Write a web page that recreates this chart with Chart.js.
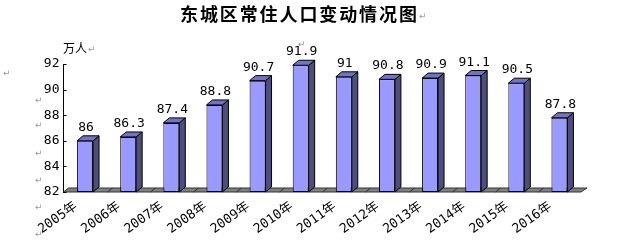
<!DOCTYPE html>
<html>
<head>
<meta charset="utf-8">
<script src="https://cdn.jsdelivr.net/npm/chart.js@4"></script>
<style>
  body { margin: 0; background: #fff; }
  #wrap { width: 642px; height: 247px; }
</style>
</head>
<body>
<div id="wrap"><canvas id="chart" width="642" height="247"></canvas></div>
<script>
// data
const years = ['2005年', '2006年', '2007年', '2008年', '2009年', '2010年',
               '2011年', '2012年', '2013年', '2014年', '2015年', '2016年'];
const population = [86, 86.3, 87.4, 88.8, 90.7, 91.9, 91, 90.8, 90.9, 91.1, 90.5, 87.8];
const yTicks = [82, 84, 86, 88, 90, 92];

const DX = 6, DY = 5;   // depth of the fake 3d bars

// floor under the bars + inward y ticks
const floorPlugin = {
  id: 'floor',
  beforeDatasetsDraw(chart) {
    const { ctx, chartArea: a, scales } = chart;
    ctx.save();
    ctx.fillStyle = '#808080';
    ctx.strokeStyle = '#333';
    ctx.lineWidth = 1;
    ctx.beginPath();
    ctx.moveTo(a.left, a.bottom);
    ctx.lineTo(a.left + DX - 1, a.bottom - DY + 1);
    ctx.lineTo(a.right + DX, a.bottom - DY + 1);
    ctx.lineTo(a.right, a.bottom);
    ctx.closePath();
    ctx.fill();
    ctx.stroke();
    // little division lines on the floor
    const xs = scales.x;
    for (let i = 1; i < years.length; i++) {
      const bx = Math.round((xs.getPixelForTick(i - 1) + xs.getPixelForTick(i)) / 2) + 0.5;
      ctx.beginPath();
      ctx.moveTo(bx, a.bottom);
      ctx.lineTo(bx + DX - 1, a.bottom - DY + 1);
      ctx.stroke();
    }
    // y ticks pointing into the plot
    const ys = scales.y;
    ctx.strokeStyle = '#000';
    yTicks.forEach(v => {
      const py = Math.round(ys.getPixelForValue(v)) + 0.5;
      ctx.beginPath();
      ctx.moveTo(a.left, py);
      ctx.lineTo(a.left + 3, py);
      ctx.stroke();
    });
    ctx.restore();
  },
  afterDatasetsDraw(chart) {
    const { ctx } = chart;
    const meta = chart.getDatasetMeta(0);
    ctx.save();
    ctx.strokeStyle = '#000';
    ctx.lineWidth = 1;
    meta.data.forEach((bar, i) => {
      const p = bar.getProps(['x', 'y', 'base', 'width'], true);
      const l = p.x - p.width / 2, r = p.x + p.width / 2;
      // side face
      ctx.fillStyle = '#4d4d80';
      ctx.beginPath();
      ctx.moveTo(r, p.y);
      ctx.lineTo(r + DX, p.y - DY);
      ctx.lineTo(r + DX, p.base - DY);
      ctx.lineTo(r, p.base);
      ctx.closePath();
      ctx.fill();
      ctx.stroke();
      // top face
      ctx.fillStyle = '#7373c4';
      ctx.beginPath();
      ctx.moveTo(l, p.y);
      ctx.lineTo(l + DX, p.y - DY);
      ctx.lineTo(r + DX, p.y - DY);
      ctx.lineTo(r, p.y);
      ctx.closePath();
      ctx.fill();
      ctx.stroke();
      // value label
      ctx.fillStyle = '#000';
      ctx.font = '13px "DejaVu Sans Mono", monospace';
      ctx.textAlign = 'center';
      ctx.textBaseline = 'alphabetic';
      ctx.fillText(String(population[i]), p.x + 1, p.y - DY - 5);
    });
    ctx.restore();
  },
  afterDraw(chart) {
    const { ctx } = chart;
    ctx.save();
    ctx.fillStyle = '#000';
    ctx.textBaseline = 'alphabetic';
    ctx.font = 'bold 18px "Noto Sans CJK SC", sans-serif';
    ctx.letterSpacing = '1.9px';
    ctx.fillText('东城区常住人口变动情况图', 180, 21);
    ctx.letterSpacing = '0px';
    ctx.font = '12px "Noto Sans CJK SC", sans-serif';
    ctx.fillText('万人', 63, 53);
    // stray paragraph marks
    ctx.fillStyle = '#999';
    ctx.font = '9px "DejaVu Sans", sans-serif';
    [[419, 19], [88, 52], [298, 47], [3, 76], [35, 103], [35, 128], [35, 156],
     [35, 183], [35, 210], [35, 237]].forEach(([x, y]) => ctx.fillText('↵', x, y));
    ctx.restore();
  }
};

new Chart(document.getElementById('chart'), {
  type: 'bar',
  data: {
    labels: years,
    datasets: [{
      data: population,
      base: 82,
      backgroundColor: '#9999ff',
      borderColor: '#000',
      borderWidth: 1,
      borderSkipped: false,
      barPercentage: 0.37,
      categoryPercentage: 1
    }]
  },
  options: {
    responsive: false,
    animation: false,
    layout: { padding: { top: 64, right: 61, left: 0, bottom: 0 } },
    plugins: {
      legend: { display: false },
      title: { display: false },
      tooltip: { enabled: false }
    },
    scales: {
      x: {
        grid: { display: false, drawTicks: false },
        border: { display: false },
        ticks: {
          color: '#000',
          font: { family: '"DejaVu Sans Mono", "Noto Sans CJK SC", monospace', size: 13 },
          minRotation: 35,
          maxRotation: 35,
          padding: 7,
          labelOffset: -9,
          autoSkip: false
        },
        afterFit(s) { s.height = 55; }
      },
      y: {
        min: 82,
        max: 92,
        grid: { display: false, drawTicks: false },
        border: { display: true, color: '#000', width: 1 },
        ticks: {
          stepSize: 2,
          color: '#000',
          padding: 4,
          font: { family: '"DejaVu Sans Mono", monospace', size: 13 }
        },
        afterFit(s) { s.width = 63.5; }
      }
    }
  },
  plugins: [floorPlugin]
});
</script>
</body>
</html>
